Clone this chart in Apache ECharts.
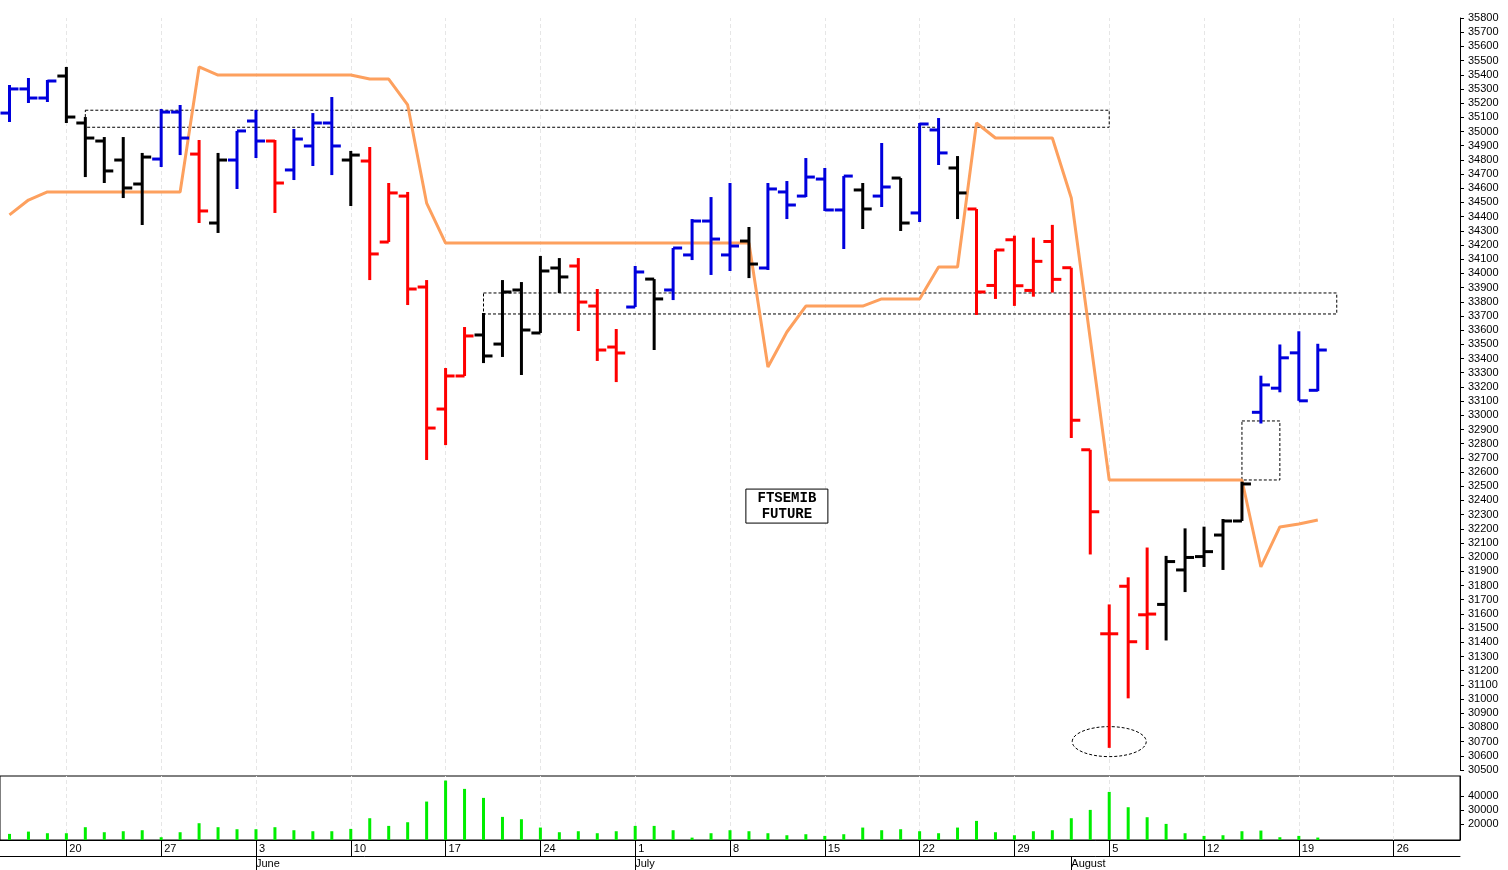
<!DOCTYPE html>
<html>
<head>
<meta charset="utf-8">
<script src="https://cdn.jsdelivr.net/npm/echarts@6/dist/echarts.min.js"></script>
<style>
html,body{margin:0;padding:0;background:#fff;}
#main{width:1508px;height:870px;}
</style>
</head>
<body>
<div id="main"></div>
<script>
// open / high / low / close per day
var opens  = [35130,35300,35236,35391,35060,34933,34799,34630,34806,35137,34841,34355,34799,35074,34933,34729,34898,35060,34799,34792,34221,34545,33904,33044,33277,33566,33502,33883,33580,34038,34052,33770,33481,33763,33960,33883,34130,34369,34130,34228,34038,34574,34545,34665,34447,34588,34545,34672,34426,35011,34743,34454,33915,34237,33880,34225,34040,32757,31460,31795,31594,31667,31910,32004,32156,32255,33021,33191,33440,33176];
var highs  = [35328,35377,35363,35455,35102,34961,34961,34849,35159,35187,34940,34849,35004,35152,34940,35018,35130,35243,34863,34891,34637,34574,33953,33333,33622,33721,33953,33939,34123,34108,34108,33890,33608,34052,33960,34179,34383,34538,34637,34327,34637,34651,34813,34743,34686,34637,34919,34672,35060,35095,34827,34454,34165,34266,34252,34342,34040,32757,31667,31858,32068,32009,32203,32215,32269,32532,33279,33499,33592,33504];
var lows   = [35067,35201,35208,35060,34679,34637,34531,34341,34750,34834,34355,34285,34595,34813,34426,34658,34757,34693,34475,33953,34221,33777,32685,32790,33277,33368,33411,33284,33580,33862,33594,33383,33234,33763,33460,33812,34094,33989,34017,33967,34024,34383,34538,34440,34172,34313,34468,34299,34362,34764,34383,33707,33820,33771,33836,33865,32840,32019,30656,31005,31346,31413,31754,31931,31910,32255,32942,33162,33102,33170];
var closes = [35300,35236,35356,35102,34954,34722,34602,34820,35137,34954,34440,34799,35004,34933,34637,34947,35060,34898,34834,34137,34567,33890,32910,33277,33559,33418,33869,33601,34017,33975,33798,33460,33439,34010,33820,34179,34369,34242,34193,34066,34595,34482,34679,34447,34686,34454,34609,34355,35053,34849,34567,33869,34165,33913,34085,33958,32965,32320,31460,31404,31599,31969,31998,32039,32255,32516,33214,33405,33102,33460];
// bar colour codes: b blue, k black, r red
var barColors = ('bbb'+'kkkkk'+'bb'+'r'+'k'+'bb'+'r'+'bbb'+'k'+'rrrrrr'+'kkkkk'+'rrr'+'b'+'k'+'bbbb'+'k'+'bbbbb'+'k'+'b'+'k'+'bb'+'k'+'rrrrrrrrrr'+'kkkkk'+'bbbb').split('');
// orange stop line
var stopLine = [34412,34517,34574,34574,34574,34574,34574,34574,34574,34574,35455,35398,35398,35398,35398,35398,35398,35398,35398,35370,35370,35187,34496,34214,34214,34214,34214,34214,34214,34214,34214,34214,34214,34214,34214,34214,34214,34214,34214,34214,33340,33587,33770,33770,33770,33770,33820,33820,33820,34045,34045,35060,34954,34954,34954,34954,34531,33538,32544,32544,32544,32544,32544,32544,32544,32544,31931,32213,32234,32262];
var volumes = [12860,14500,13340,13340,17640,14050,14760,15480,10480,14050,20480,17640,16190,16190,17640,15480,14760,14760,16430,24050,18570,21190,35950,50950,45000,38570,25000,23330,17380,14050,14760,13340,14760,18570,18570,15480,10200,13340,15480,14760,13340,11900,12620,11430,12620,17380,15480,16190,14760,13340,17380,22140,14050,11900,14760,15480,24050,30000,42850,31900,24760,20000,13340,11430,11900,14760,15240,10480,11430,10240];
var monthLabels = {13:'June', 33:'July', 56:'August'};

// trading days from 15 May (weekdays), padded to the right edge
var days = [];
var d = new Date(2024, 4, 15);
while (days.length < 77) {
    if (d.getDay() != 0 && d.getDay() != 6) days.push({day: d.getDate(), monday: d.getDay() == 1});
    d.setDate(d.getDate() + 1);
}
var cats = days.map(function(e, i){ return String(i); });
var mondayIdx = [];
days.forEach(function(e, i){ if (e.monday) mondayIdx.push(i); });

var ohlc = opens.map(function(o, i){
    return [i, o, highs[i], lows[i], closes[i], {b:1, k:0, r:2}[barColors[i]]];
});
var colorMap = ['#000000', '#0000dd', '#ff0000'];

function renderBar(params, api){
    var x = api.value(0);
    var pO = api.coord([x, api.value(1)]);
    var pH = api.coord([x, api.value(2)]);
    var pL = api.coord([x, api.value(3)]);
    var pC = api.coord([x, api.value(4)]);
    var st = {stroke: colorMap[api.value(5)], lineWidth: 3};
    return {type: 'group', children: [
        {type: 'line', shape: {x1: pH[0], y1: pH[1], x2: pL[0], y2: pL[1]}, style: st},
        {type: 'line', shape: {x1: pO[0] - 9, y1: pO[1], x2: pO[0], y2: pO[1]}, style: st},
        {type: 'line', shape: {x1: pC[0], y1: pC[1], x2: pC[0] + 9, y2: pC[1]}, style: st}
    ]};
}

function weekLines(){
    return {silent: true, symbol: 'none', label: {show: false}, z: 0,
            lineStyle: {color: '#e6e6e6', type: [4, 3], width: 1},
            data: mondayIdx.map(function(i){ return {xAxis: i}; })};
}
var plainNum = function(v){ return String(v); };

var dashBox = {color: 'transparent', borderColor: '#000', borderWidth: 1, borderType: [3, 2]};
var chart = echarts.init(document.getElementById('main'));
var option = {
    animation: false,
    backgroundColor: '#fff',
    textStyle: {fontFamily: 'Liberation Sans Narrow, Liberation Sans, sans-serif'},
    grid: [
        {left: 0, right: 48, top: 18, bottom: 100},
        {left: -1, right: 48, top: 776, bottom: 30, show: true, borderColor: '#000', borderWidth: 1}
    ],
    xAxis: [
        {type: 'category', gridIndex: 0, data: cats, axisLine: {show: false}, axisTick: {show: false}, axisLabel: {show: false}},
        {type: 'category', gridIndex: 1, data: cats, position: 'bottom',
         axisLine: {show: true, lineStyle: {color: '#000'}},
         axisTick: {show: true, alignWithLabel: true, length: 16, lineStyle: {color: '#000'},
                    interval: function(i){ return days[i].monday; }},
         axisLabel: {show: true, interval: function(i){ return days[i].monday; }, align: 'left', margin: 3,
                     padding: [0,0,0,3], fontSize: 11, color: '#000',
                     formatter: function(v, i){ return days[i].day; }}},
        {type: 'category', gridIndex: 1, data: cats, position: 'bottom', offset: 16,
         axisLine: {show: true, lineStyle: {color: '#000'}},
         axisTick: {show: true, alignWithLabel: true, length: 14, lineStyle: {color: '#000'},
                    interval: function(i){ return !!monthLabels[i]; }},
         axisLabel: {show: true, interval: function(i){ return !!monthLabels[i]; }, align: 'left', margin: 2,
                     fontSize: 11, color: '#000', formatter: function(v, i){ return monthLabels[i] || ''; }}}
    ],
    yAxis: [
        {type: 'value', gridIndex: 0, position: 'right', min: 30500, max: 35800, interval: 100,
         axisLine: {show: true, lineStyle: {color: '#000'}}, axisTick: {show: true, length: 4, lineStyle: {color: '#000'}},
         splitLine: {show: false}, axisLabel: {fontSize: 11, color: '#000', margin: 8, formatter: plainNum}},
        {type: 'value', gridIndex: 1, position: 'right', min: 8500, max: 54200,
         axisLine: {show: true, lineStyle: {color: '#000'}},
         axisTick: {show: true, length: 4, customValues: [20000, 30000, 40000]},
         splitLine: {show: false},
         axisLabel: {fontSize: 11, color: '#000', margin: 8, formatter: plainNum, customValues: [20000, 30000, 40000]}}
    ],
    series: [
        {type: 'line', xAxisIndex: 0, yAxisIndex: 0, data: [], z: 0, markLine: weekLines()},
        {type: 'line', xAxisIndex: 1, yAxisIndex: 1, data: [], z: 0, markLine: weekLines()},
        {type: 'line', xAxisIndex: 0, yAxisIndex: 0, data: stopLine, symbol: 'none', z: 5,
         lineStyle: {color: '#fda05e', width: 3},
         markArea: {silent: true, itemStyle: dashBox, data: [
             [{xAxis: 4, yAxis: 35150}, {xAxis: 58, yAxis: 35030}],
             [{xAxis: 25, yAxis: 33862}, {xAxis: 70, yAxis: 33714}],
             [{xAxis: 65, yAxis: 32960}, {xAxis: 67, yAxis: 32544}]
         ]}},
        {type: 'custom', xAxisIndex: 0, yAxisIndex: 0, data: ohlc, renderItem: renderBar, z: 10,
         encode: {x: 0, y: [1, 2, 3, 4]}},
        {type: 'bar', xAxisIndex: 1, yAxisIndex: 1, data: volumes, barWidth: 3, z: 10, itemStyle: {color: '#00ee00'}}
    ]
};
chart.setOption(option);

var ec = chart.convertToPixel({xAxisIndex: 0, yAxisIndex: 0}, [58, 30700]);
var tb = chart.convertToPixel({xAxisIndex: 0, yAxisIndex: 0}, [40.9, 32360]);
chart.setOption({graphic: [
    {type: 'ellipse', shape: {cx: ec[0], cy: ec[1], rx: 37, ry: 15},
     style: {fill: 'none', stroke: '#000', lineWidth: 1, lineDash: [3, 2]}},
    {type: 'rect', shape: {x: tb[0] - 41, y: tb[1] - 17, width: 82, height: 34},
     style: {fill: '#fff', stroke: '#000', lineWidth: 1}},
    {type: 'text', x: tb[0], y: tb[1], style: {text: 'FTSEMIB\nFUTURE', align: 'center', verticalAlign: 'middle',
     font: 'bold 14px "Liberation Mono", monospace', fill: '#000', lineHeight: 16}}
]});
</script>
</body>
</html>
